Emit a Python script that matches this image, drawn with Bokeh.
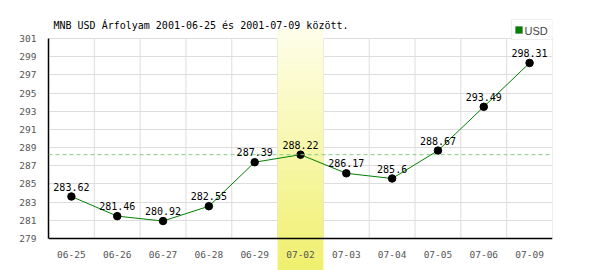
from bokeh.plotting import figure
from bokeh.models import (ColumnDataSource, Range1d, FixedTicker, Span, BoxAnnotation,
                          LabelSet, Label)
from bokeh.core.properties import value
from bokeh.embed import file_html
from bokeh.resources import INLINE

dates = ["06-25", "06-26", "06-27", "06-28", "06-29", "07-02", "07-03", "07-04", "07-05", "07-06", "07-09"]
rates = [283.62, 281.46, 280.92, 282.55, 287.39, 288.22, 286.17, 285.6, 288.67, 293.49, 298.31]
labels = ["283.62", "281.46", "280.92", "282.55", "287.39", "288.22", "286.17", "285.6", "288.67", "293.49", "298.31"]
highlight = "07-02"
ref_value = 288.22
y_ticks = list(range(279, 302, 2))
title = "MNB USD Árfolyam 2001-06-25 és 2001-07-09 között."
series_name = "USD"

idx = list(range(len(dates)))
src = ColumnDataSource(dict(x=idx, y=rates, lab=labels))

MONO = "DejaVu Sans Mono"
W, H = 600, 270
FRAME_TOP, FRAME_BOT = 38, 238   # pixel rows of the axis limits
y_lo, y_hi = y_ticks[0], y_ticks[-1]
ppu = (FRAME_BOT - FRAME_TOP) / (y_hi - y_lo)
# frame covers the whole canvas height so the band, title and legend are not clipped
y_start = y_lo - (H - FRAME_BOT) / ppu
y_end = y_hi + FRAME_TOP / ppu

p = figure(width=W, height=H, output_backend="svg", toolbar_location=None,
           x_range=Range1d(-0.5, len(dates) - 0.5), y_range=Range1d(y_start, y_end),
           min_border_left=48, min_border_right=48, min_border_top=0, min_border_bottom=0)
p.outline_line_color = None
p.background_fill_color = "white"
p.border_fill_color = "white"

# highlight band (vertical gradient approximated by strips)
hi = dates.index(highlight)
n = 24
top_px, bot_px = 28, 270
c0 = (254, 254, 232)
c1 = (240, 240, 112)
for i in range(n):
    t = i / (n - 1)
    col = "#%02x%02x%02x" % tuple(int(round(a + (b - a) * t)) for a, b in zip(c0, c1))
    y0 = top_px + (bot_px - top_px) * i / n
    y1 = top_px + (bot_px - top_px) * (i + 1) / n
    p.add_layout(BoxAnnotation(left=hi - 0.5, right=hi + 0.5,
                               top=y0, bottom=y1 + 0.5, top_units="canvas", bottom_units="canvas",
                               fill_color=col, fill_alpha=1, line_color=None, level="underlay",
                               propagate_hover=False))

# axes
p.xaxis.ticker = FixedTicker(ticks=idx)
p.xaxis.major_label_overrides = {i: d for i, d in zip(idx, dates)}
p.xaxis.fixed_location = y_lo
p.yaxis.ticker = FixedTicker(ticks=y_ticks)
p.yaxis.bounds = (y_lo, y_hi)
for ax in (p.xaxis[0], p.yaxis[0]):
    ax.major_tick_line_color = None
    ax.minor_tick_line_color = None
    ax.axis_line_color = "black"
    ax.axis_line_width = 1.5
    ax.major_label_text_font = MONO
    ax.major_label_text_font_size = "9.5px"
    ax.major_label_text_color = "#555555"
    ax.major_label_standoff = 6

p.xgrid.visible = False
p.ygrid.grid_line_color = "#dddddd"
bounds = [i + 0.5 for i in idx]
p.segment(x0=bounds, y0=[y_lo] * len(bounds), x1=bounds, y1=[y_hi] * len(bounds),
          line_color="#dddddd", line_width=1, level="underlay")

p.add_layout(Span(location=ref_value, dimension="width", line_color="#88cc88",
                  line_dash="4 3", line_width=1))

p.line("x", "y", source=src, line_color="#008000", line_width=1)
p.scatter("x", "y", source=src, size=7.5, fill_color="black", line_color="black")
p.add_layout(LabelSet(x="x", y="y", text="lab", source=src, text_align="center",
                      y_offset=6, text_font=value(MONO), text_font_size=value("10px"),
                      text_color="black"))

# title
p.add_layout(Label(x=53, y=25, x_units="canvas", y_units="canvas", text=title,
                   text_font=MONO, text_font_size="10px", text_color="black",
                   text_baseline="alphabetic"))

# legend box
p.add_layout(BoxAnnotation(left=511, right=552, top=19, bottom=39,
                           left_units="canvas", right_units="canvas",
                           top_units="canvas", bottom_units="canvas",
                           fill_color="white", fill_alpha=1, line_color="#c8c8c8",
                           line_width=1.2, propagate_hover=False))
p.add_layout(BoxAnnotation(left=515, right=522, top=26, bottom=33,
                           left_units="canvas", right_units="canvas",
                           top_units="canvas", bottom_units="canvas",
                           fill_color="#008000", fill_alpha=1, line_color="#555555",
                           line_width=1, propagate_hover=False))
p.add_layout(Label(x=524, y=30, x_units="canvas", y_units="canvas", text=series_name,
                   text_font="Liberation Sans Narrow, Liberation Sans", text_font_size="11px",
                   text_color="#444444", text_baseline="alphabetic"))

open("out.html", "w").write(file_html(p, INLINE))
